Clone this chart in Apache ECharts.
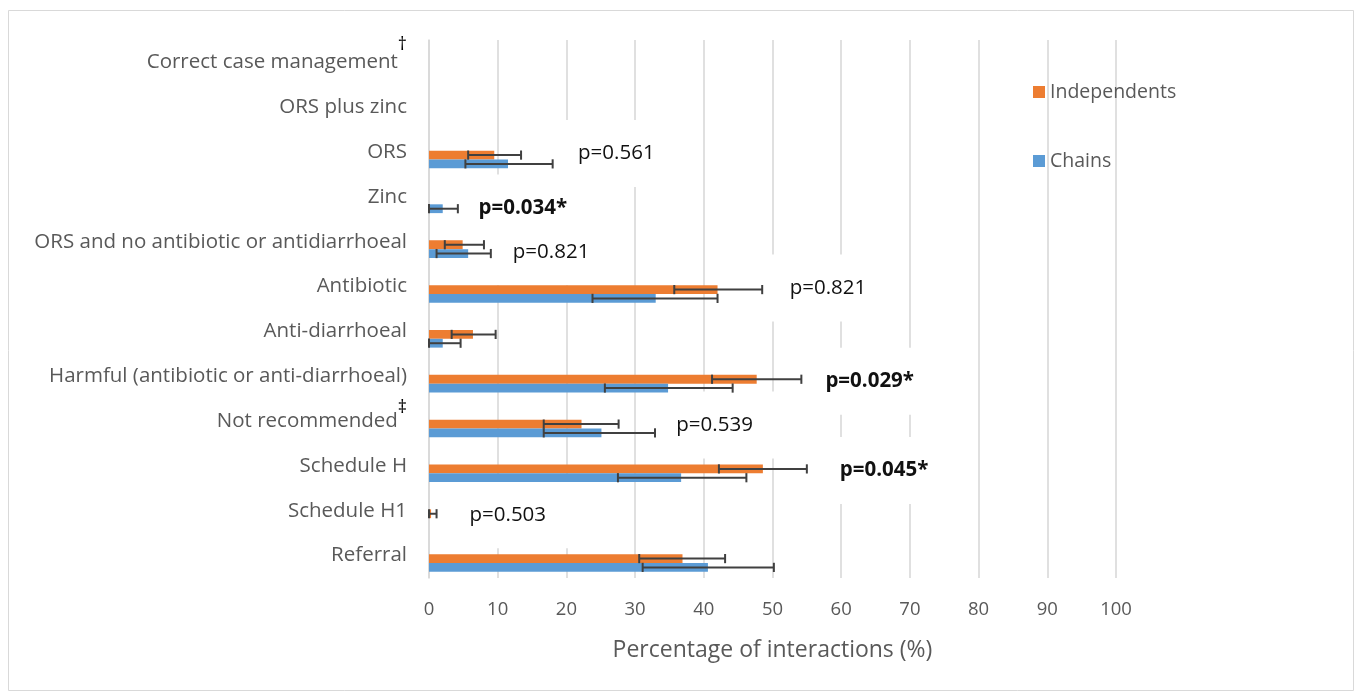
<!DOCTYPE html>
<html>
<head>
<meta charset="utf-8">
<script src="https://cdn.jsdelivr.net/npm/echarts@6/dist/echarts.min.js"></script>
<style>
  html, body { margin: 0; padding: 0; background: #ffffff; }
  #chart { width: 1355px; height: 693px; }
</style>
</head>
<body>
<div id="chart"></div>
<script>
// ---------------- DATA ----------------
const categories = [
  'Correct case management',
  'ORS plus zinc',
  'ORS',
  'Zinc',
  'ORS and no antibiotic or antidiarrhoeal',
  'Antibiotic',
  'Anti-diarrhoeal',
  'Harmful (antibiotic or anti-diarrhoeal)',
  'Not recommended',
  'Schedule H',
  'Schedule H1',
  'Referral'
];
const footnotes = ['†', '', '', '', '', '', '', '', '‡', '', '', ''];

const seriesNames = ['Independents', 'Chains'];

const independents     = [0, 0,  9.5, 0,   4.9, 42.0, 6.4, 47.7, 22.2, 48.6, 0.3, 36.9];
const independentsLow  = [0, 0,  5.7, 0,   2.3, 35.7, 3.3, 41.2, 16.7, 42.2, 0.0, 30.6];
const independentsHigh = [0, 0, 13.4, 0,   8.0, 48.5, 9.7, 54.2, 27.6, 55.0, 1.1, 43.1];

const chains     = [0, 0, 11.5, 2.0, 5.7, 33.0, 2.0, 34.8, 25.1, 36.7, 0, 40.6];
const chainsLow  = [0, 0,  5.3, 0.0, 1.1, 23.8, 0.0, 25.6, 16.7, 27.5, 0, 31.1];
const chainsHigh = [0, 0, 18.0, 4.2, 9.0, 42.0, 4.6, 44.2, 32.9, 46.2, 0, 50.2];

const xTicks = [0, 10, 20, 30, 40, 50, 60, 70, 80, 90, 100];

const pValueCategories = ['ORS', 'Zinc', 'ORS and no antibiotic or antidiarrhoeal', 'Antibiotic',
  'Harmful (antibiotic or anti-diarrhoeal)', 'Not recommended', 'Schedule H', 'Schedule H1'];
const pValueLabels = ['p=0.561', 'p=0.034*', 'p=0.821', 'p=0.821', 'p=0.029*', 'p=0.539', 'p=0.045*', 'p=0.503'];
const pValueSignificant = [false, true, false, false, true, false, true, false];
const pValueAt = [21.7, 7.2, 12.2, 52.5, 57.7, 36.0, 59.8, 5.9]; // x value where each note starts

// ---------------- STYLE / LAYOUT ----------------
const ORANGE = '#ED7D31', BLUE = '#5B9BD5', ERR = '#404040', GRID = '#d9d9d9', TXT = '#595959';
const FONT = 'Open Sans';
const BAR_W = 8.8, PAD_W = 14.8;
const TOTAL_W = PAD_W + 2 * BAR_W;
const START = -TOTAL_W / 2;
const OFF_IND = START + PAD_W + BAR_W / 2;
const OFF_CH = START + PAD_W + BAR_W * 1.5;
const NOTE_DY = [1.5, 11, 10, 1.5, 5, 4, 4.5, 4];
const NOTE_PAD = [22, 30, 24, 20];

const chart = echarts.init(document.getElementById('chart'), null, { renderer: 'canvas' });

function errorSeries(name, low, high, values, off) {
  return {
    type: 'custom',
    name: name,
    silent: true,
    z: 4,
    data: categories.map((c, i) => [i, low[i], high[i], values[i]]),
    encode: { y: 0, x: [1, 2] },
    renderItem: function (params, api) {
      const ci = api.value(0), lo = api.value(1), hi = api.value(2);
      if (!(hi > 0)) return null;
      const p1 = api.coord([lo, ci]);
      const p2 = api.coord([hi, ci]);
      const y = p1[1] + off;
      const cap = 4.6;
      const st = { stroke: ERR, lineWidth: 2 };
      return {
        type: 'group',
        children: [
          { type: 'line', shape: { x1: p1[0], y1: y, x2: p2[0], y2: y }, style: st },
          { type: 'line', shape: { x1: p1[0], y1: y - cap, x2: p1[0], y2: y + cap }, style: st },
          { type: 'line', shape: { x1: p2[0], y1: y - cap, x2: p2[0], y2: y + cap }, style: st }
        ]
      };
    }
  };
}

const option = {
  backgroundColor: '#ffffff',
  animation: false,
  graphic: [{
    type: 'rect', silent: true, z: -10,
    shape: { x: 8.5, y: 10.5, width: 1345, height: 680 },
    style: { fill: 'none', stroke: GRID, lineWidth: 1 }
  }],
  legend: {
    data: seriesNames,
    orient: 'vertical',
    left: 1028,
    top: 77,
    icon: 'rect',
    itemWidth: 12,
    itemHeight: 12,
    itemGap: 49,
    textStyle: { color: TXT, fontSize: 19.5, fontFamily: FONT, padding: [0, 0, 0, 0] }
  },
  grid: { left: 429, right: 239, top: 40, bottom: 115, containLabel: false },
  xAxis: {
    type: 'value',
    min: xTicks[0],
    max: xTicks[xTicks.length - 1],
    interval: xTicks[1] - xTicks[0],
    axisLine: { show: false },
    axisTick: { show: false },
    splitLine: { show: true, lineStyle: { color: GRID, width: 1.6 } },
    axisLabel: { color: TXT, fontSize: 18.5, fontFamily: FONT, margin: 22 },
    name: 'Percentage of interactions (%)',
    nameLocation: 'middle',
    nameGap: 61,
    nameTextStyle: { color: TXT, fontSize: 23, fontFamily: FONT }
  },
  yAxis: {
    type: 'category',
    data: categories,
    inverse: true,
    axisLine: { show: true, lineStyle: { color: GRID, width: 1.6 } },
    axisTick: { show: false },
    splitLine: { show: false },
    axisLabel: {
      color: TXT, fontSize: 20.5, fontFamily: FONT, margin: 22,
      formatter: function (v, i) {
        const n = footnotes[i];
        if (n === '†') return v + '{dag|†}';
        if (n === '‡') return v + '{ddag|‡}';
        return v;
      },
      rich: {
        dag: { fontSize: 18, fontFamily: FONT, color: '#000000', padding: [0, 0, 36, 0] },
        ddag: { fontSize: 18, fontFamily: FONT, color: '#000000', padding: [0, 0, 26, 0] }
      }
    }
  },
  series: [
    {
      type: 'bar', name: 'pad', barWidth: PAD_W, barGap: '0%', silent: true,
      data: categories.map(() => 0),
      itemStyle: { color: 'rgba(0,0,0,0)' }
    },
    {
      type: 'bar', name: seriesNames[0], barWidth: BAR_W, barGap: '0%',
      data: independents, itemStyle: { color: ORANGE }
    },
    {
      type: 'bar', name: seriesNames[1], barWidth: BAR_W, barGap: '0%',
      data: chains, itemStyle: { color: BLUE }
    },
    errorSeries('errInd', independentsLow, independentsHigh, independents, OFF_IND),
    errorSeries('errCh', chainsLow, chainsHigh, chains, OFF_CH),
    {
      type: 'custom',
      name: 'pvalues',
      silent: true,
      z: 1,
      data: pValueLabels.map((t, i) => [pValueAt[i], categories.indexOf(pValueCategories[i]), i]),
      encode: { x: 0, y: 1 },
      renderItem: function (params, api) {
        const k = api.value(2);
        const p = api.coord([api.value(0), api.value(1)]);
        return {
          type: 'text',
          x: p[0] - NOTE_PAD[3],
          y: p[1] + NOTE_DY[k],
          style: {
            text: pValueLabels[k],
            fontFamily: FONT,
            fontSize: 20.5,
            fontWeight: pValueSignificant[k] ? 'bold' : 'normal',
            fill: '#111111',
            align: 'left',
            verticalAlign: 'middle',
            backgroundColor: '#ffffff',
            padding: NOTE_PAD
          }
        };
      }
    }
  ]
};

chart.setOption(option);
</script>
</body>
</html>
